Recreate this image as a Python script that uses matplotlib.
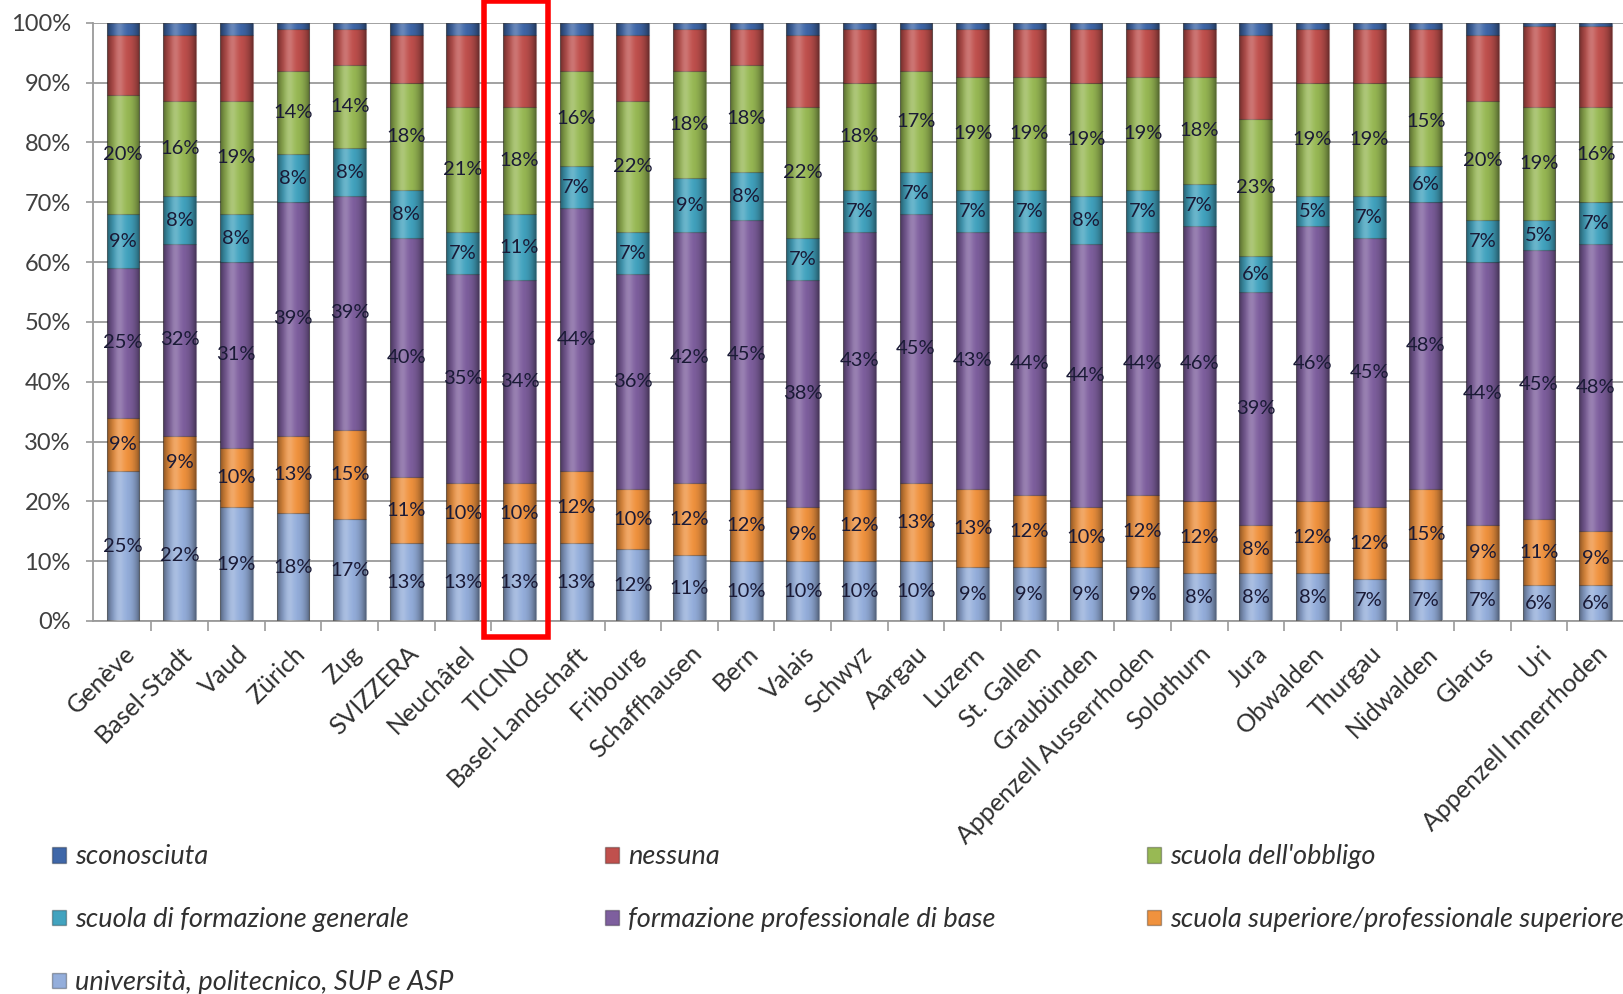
import matplotlib
matplotlib.use("Agg")
import matplotlib.pyplot as plt
import numpy as np
from matplotlib.patches import Patch, Rectangle

plt.rcParams['font.family'] = ['Lato', 'DejaVu Sans']

# cantons, in chart order
cantons = ["Genève", "Basel-Stadt", "Vaud", "Zürich", "Zug", "SVIZZERA", "Neuchâtel",
           "TICINO", "Basel-Landschaft", "Fribourg", "Schaffhausen", "Bern", "Valais",
           "Schwyz", "Aargau", "Luzern", "St. Gallen", "Graubünden",
           "Appenzell Ausserrhoden", "Solothurn", "Jura", "Obwalden", "Thurgau",
           "Nidwalden", "Glarus", "Uri", "Appenzell Innerrhoden"]

# shares in %, bottom to top of each bar
universita = [25, 22, 19, 18, 17, 13, 13, 13, 13, 12, 11, 10, 10, 10, 10, 9, 9, 9, 9, 8, 8, 8, 7, 7, 7, 6, 6]
superiore = [9, 9, 10, 13, 15, 11, 10, 10, 12, 10, 12, 12, 9, 12, 13, 13, 12, 10, 12, 12, 8, 12, 12, 15, 9, 11, 9]
prof_base = [25, 32, 31, 39, 39, 40, 35, 34, 44, 36, 42, 45, 38, 43, 45, 43, 44, 44, 44, 46, 39, 46, 45, 48, 44, 45, 48]
form_generale = [9, 8, 8, 8, 8, 8, 7, 11, 7, 7, 9, 8, 7, 7, 7, 7, 7, 8, 7, 7, 6, 5, 7, 6, 7, 5, 7]
obbligo = [20, 16, 19, 14, 14, 18, 21, 18, 16, 22, 18, 18, 22, 18, 17, 19, 19, 19, 19, 18, 23, 19, 19, 15, 20, 19, 16]
nessuna = [10, 11, 11, 7, 6, 8, 12, 12, 6, 11, 7, 6, 12, 9, 7, 8, 8, 9, 8, 8, 14, 9, 9, 8, 11, 13.5, 13.5]
sconosciuta = [2, 2, 2, 1, 1, 2, 2, 2, 2, 2, 1, 1, 2, 1, 1, 1, 1, 1, 1, 1, 2, 1, 1, 1, 2, 0.5, 0.5]

series = [
    ("università, politecnico, SUP e ASP", universita, "#94AEDB", True),
    ("scuola superiore/professionale superiore", superiore, "#F0923E", True),
    ("formazione professionale di base", prof_base, "#7E5F9E", True),
    ("scuola di formazione generale", form_generale, "#42A3BF", True),
    ("scuola dell'obbligo", obbligo, "#98B954", True),
    ("nessuna", nessuna, "#C0504D", False),
    ("sconosciuta", sconosciuta, "#3F67A8", False),
]

fig = plt.figure(figsize=(16.24, 9.94), dpi=100)
ax = fig.add_axes([0.0573, 0.3753, 0.9427, 0.6017])

x = np.arange(len(cantons))
width = 0.58
bottom = np.zeros(len(cantons))
handles = {}
for name, vals, color, labelled in series:
    vals = np.array(vals, dtype=float)
    ax.bar(x, vals, width, bottom=bottom, color=color,
           edgecolor=(0, 0, 0, 0.25), linewidth=0.8, zorder=2)
    if labelled:
        for xi, v, b in zip(x, vals, bottom):
            ax.text(xi, b + v / 2, f"{v:.0f}%", ha='center', va='center',
                    fontsize=14.5, color='#1a1a36', zorder=5)
    handles[name] = Patch(facecolor=color, edgecolor=(0, 0, 0, 0.3))
    bottom += vals

# cylinder-like shading on each bar
t = np.linspace(-1, 1, 64)
shade = np.zeros((1, 64, 4))
shade[..., 3] = 0.42 * np.abs(t) ** 2.5
light = np.ones((1, 64, 4))
light[..., 3] = 0.22 * np.exp(-((t + 0.25) / 0.3) ** 2)
for xi, top in zip(x, bottom):
    ext = [xi - width / 2, xi + width / 2, 0, top]
    ax.imshow(shade, extent=ext, aspect='auto', zorder=3, interpolation='bilinear')
    ax.imshow(light, extent=ext, aspect='auto', zorder=3, interpolation='bilinear')

ax.set_xlim(-0.53, 26.4)
ax.set_ylim(0, 100)

ax.set_yticks(np.arange(0, 101, 10))
ax.set_yticklabels([f"{v}%" for v in range(0, 101, 10)])
ax.yaxis.grid(True, color='#9a9a9a', linewidth=1.3, zorder=0)
ax.set_axisbelow(True)
ax.tick_params(axis='y', length=5, width=1.2, color='#9a9a9a', pad=11,
               labelsize=17, labelcolor='#404040')

ax.set_xticks(x)
ax.set_xticklabels(cantons, rotation=45, ha='right', rotation_mode='anchor',
                   fontsize=18, color='#303030')
ax.set_xticks(np.arange(len(cantons)) + 0.5, minor=True)
ax.tick_params(axis='x', which='major', length=0, pad=15)
ax.tick_params(axis='x', which='minor', length=7, width=1.2, color='#9a9a9a')

for s in ['top', 'right']:
    ax.spines[s].set_visible(False)
for s in ['left', 'bottom']:
    ax.spines[s].set_color('#9a9a9a')
    ax.spines[s].set_linewidth(1.3)

# highlight TICINO
ti = cantons.index("TICINO")
ax.add_patch(Rectangle((ti - 0.62, -2.6), 1.13, 106.2, fill=False, edgecolor='#ff0000',
                       linewidth=4, clip_on=False, zorder=6))

order = ["sconosciuta", "scuola di formazione generale", "università, politecnico, SUP e ASP",
         "nessuna", "formazione professionale di base",
         "scuola dell'obbligo", "scuola superiore/professionale superiore"]
fig.legend([handles[n] for n in order], order, loc='upper left',
           bbox_to_anchor=(0.032, 0.1505), ncol=3, frameon=False,
           borderpad=0, borderaxespad=0,
           prop={'size': 19.5, 'style': 'italic'}, labelcolor='#303030',
           handlelength=0.5, handleheight=0.5, handletextpad=0.35,
           columnspacing=5.6, labelspacing=1.4)

fig.savefig("out.png", dpi=100)
